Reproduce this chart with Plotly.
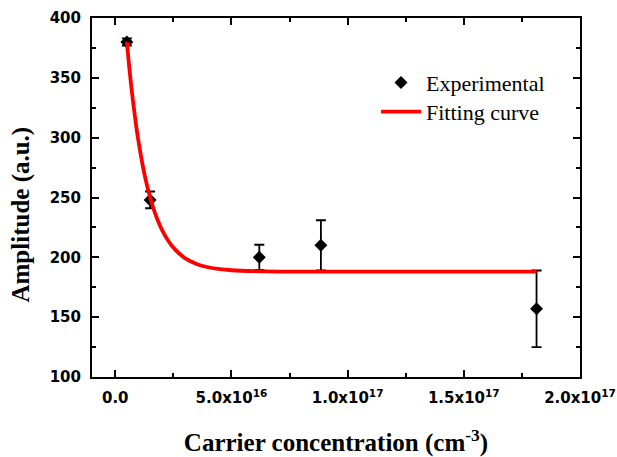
import plotly.graph_objects as go

# Experimental data
carrier_conc = [5.0e15, 1.5e16, 6.2e16, 8.85e16, 1.813e17]
amplitude = [380, 248, 200, 210, 157]
amp_error = [3, 7, 10.5, 21, 32]

# Fitting curve
fit_x = [0.5e16, 0.6e16, 0.7e16, 0.8e16, 0.9e16, 1.0e16, 1.2e16, 1.4e16, 1.6e16,
         1.8e16, 2.0e16, 2.3e16, 2.6e16, 3.0e16, 3.5e16, 4.0e16, 4.5e16, 5.0e16,
         6.0e16, 7.0e16, 9.0e16, 12.0e16, 18.13e16]
fit_y = [380, 359.5, 341, 325, 310, 297, 275, 257.5, 243.5,
         232.3, 223.4, 213.2, 206, 199.4, 194.5, 191.7, 190.1, 189.2,
         188.4, 188.1, 188, 188, 188]

x_tickvals = [0, 5e16, 1e17, 1.5e17, 2e17]
x_ticktext = ["0.0", "5.0x10<sup>16</sup>", "1.0x10<sup>17</sup>",
              "1.5x10<sup>17</sup>", "2.0x10<sup>17</sup>"]
y_tickvals = [100, 150, 200, 250, 300, 350, 400]

fig = go.Figure()
fig.add_trace(go.Scatter(
    x=carrier_conc, y=amplitude, mode="markers", name="Experimental",
    marker=dict(symbol="diamond", size=10, color="black"),
    error_y=dict(type="data", array=amp_error, visible=True, color="black",
                 thickness=1.8, width=5),
    legend="legend",
))
fig.add_trace(go.Scatter(
    x=fit_x, y=fit_y, mode="lines", name="Fitting curve",
    line=dict(color="#ff0000", width=3.8, shape="spline", smoothing=0.5),
    legend="legend2",
))

axis_common = dict(
    showline=True, linecolor="black", linewidth=2, mirror="allticks",
    ticks="inside", ticklen=7, tickwidth=1.5, tickcolor="black",
    showgrid=False, zeroline=False,
    tickfont=dict(family="DejaVu Sans", size=15, color="black", weight="bold"),
)

legend_common = dict(
    xanchor="left", yanchor="top",
    bgcolor="rgba(0,0,0,0)", borderwidth=0,
    font=dict(family="Liberation Serif", size=22, color="black"),
    itemwidth=40,
)

title_font = dict(family="Liberation Serif", size=25, color="black", weight="bold")

fig.update_layout(
    width=617, height=457,
    margin=dict(l=92, r=37, t=18, b=80),
    paper_bgcolor="white", plot_bgcolor="white",
    showlegend=True,
    legend=dict(x=0.582, y=0.878, **legend_common),
    legend2=dict(x=0.582, y=0.797, **legend_common),
    xaxis=dict(
        range=[-1e16, 2e17], tickvals=x_tickvals, ticktext=x_ticktext,
        minor=dict(ticks="inside", ticklen=4, tickwidth=1.5, tickcolor="black",
                   dtick=2.5e16, tick0=0),
        title=dict(text="Carrier concentration (cm<sup>-3</sup>)", standoff=30,
                   font=title_font),
        automargin=False,
        ticklabelstandoff=6,
        **axis_common,
    ),
    yaxis=dict(
        range=[100, 400], tickvals=y_tickvals,
        minor=dict(ticks="inside", ticklen=4, tickwidth=1.5, tickcolor="black",
                   dtick=25, tick0=100),
        automargin=False,
        ticklabelstandoff=6,
        **axis_common,
    ),
    annotations=[dict(
        text="Amplitude (a.u.)", textangle=-90, showarrow=False,
        xref="paper", yref="paper", x=-0.1455, y=0.4526,
        xanchor="center", yanchor="middle", font=title_font,
    )],
)

fig.write_html("out.html")
